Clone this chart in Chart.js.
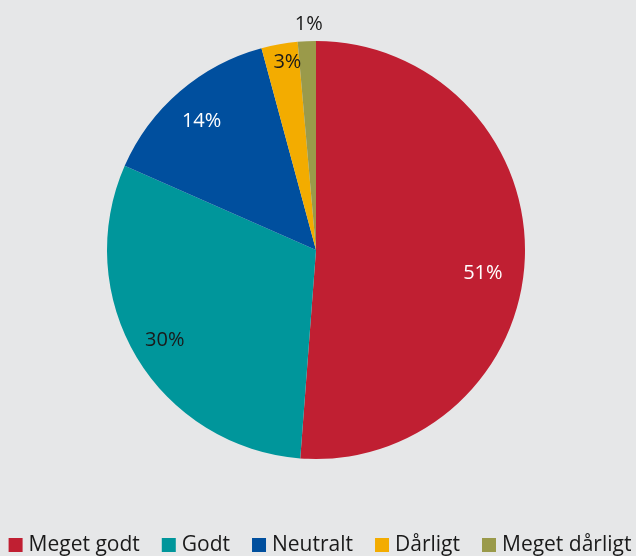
<!DOCTYPE html>
<html>
<head>
<meta charset="utf-8">
<script src="https://cdn.jsdelivr.net/npm/chart.js@4/dist/chart.umd.min.js"></script>
<style>
  html, body { margin: 0; padding: 0; background: #e6e7e8; }
  #wrap { width: 636px; height: 556px; }
</style>
</head>
<body>
<div id="wrap"><canvas id="c-pie"></canvas></div>
<script>
const categories = ["Meget godt", "Godt", "Neutralt", "Dårligt", "Meget dårligt"];
const shares = [51.2, 30.4, 14.2, 2.8, 1.4];
const sliceColors = ["#c01f32", "#00969b", "#004f9e", "#f3ac00", "#9a9a4a"];
const labelColors = ["#ffffff", "#1a1a1a", "#ffffff", "#1a1a1a", "#1a1a1a"];
const labelRadius = [0.806, 0.842, 0.823, 0.907, 1.08];
const labelShiftDeg = [5.7, 0.2, -1, 1.4, 0.7];

const sliceLabels = {
  id: "sliceLabels",
  afterDatasetsDraw(chart) {
    const ctx = chart.ctx;
    const meta = chart.getDatasetMeta(0);
    ctx.save();
    ctx.font = "20px 'Open Sans'";
    ctx.textAlign = "center";
    ctx.textBaseline = "middle";
    meta.data.forEach((arc, i) => {
      const mid = (arc.startAngle + arc.endAngle) / 2 + labelShiftDeg[i] * Math.PI / 180;
      const r = arc.outerRadius * labelRadius[i];
      ctx.fillStyle = labelColors[i];
      ctx.fillText(Math.round(shares[i]) + "%", arc.x + Math.cos(mid) * r, arc.y + Math.sin(mid) * r);
    });
    ctx.restore();
  }
};

// one-line legend under the pie, drawn by hand so it does not wrap
const bottomLegend = {
  id: "bottomLegend",
  afterDraw(chart) {
    const ctx = chart.ctx;
    const box = 14, boxGap = 6, itemGap = 22;
    ctx.save();
    ctx.font = "21px 'Open Sans'";
    ctx.textBaseline = "middle";
    ctx.textAlign = "left";
    const widths = categories.map((c) => ctx.measureText(c).width);
    const total = widths.reduce((s, w) => s + w + box + boxGap, 0) + itemGap * (categories.length - 1);
    let x = (chart.width - total) / 2 + 2;
    const y = 545;
    categories.forEach((c, i) => {
      ctx.fillStyle = sliceColors[i];
      ctx.fillRect(x, y - box / 2, box, box);
      ctx.fillStyle = "#1a1a1a";
      ctx.fillText(c, x + box + boxGap, y);
      x += box + boxGap + widths[i] + itemGap;
    });
    ctx.restore();
  }
};

new Chart(document.getElementById("c-pie"), {
  type: "pie",
  data: {
    labels: categories,
    datasets: [{ data: shares, backgroundColor: sliceColors, borderWidth: 0 }]
  },
  options: {
    responsive: true,
    maintainAspectRatio: false,
    animation: false,
    layout: { padding: { top: 41, bottom: 97, left: 0, right: 4 } },
    plugins: {
      tooltip: { enabled: false },
      legend: { display: false }
    }
  },
  plugins: [sliceLabels, bottomLegend]
});
</script>
</body>
</html>
